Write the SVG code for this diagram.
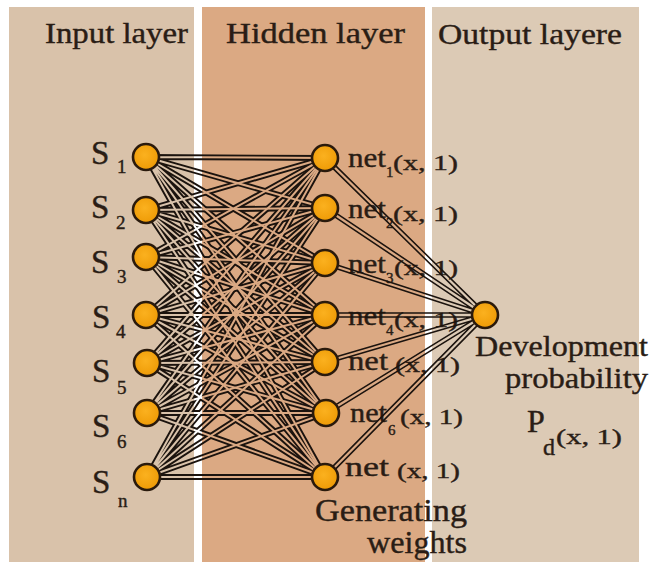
<svg xmlns="http://www.w3.org/2000/svg" width="651" height="562" viewBox="0 0 651 562">
  <style>
    .txt { font-family: "Liberation Serif", "Times New Roman", serif; fill: #2a1d15; stroke: #2a1d15; stroke-width: 0.4; }
    .title { font-size: 30px; }
    .big { font-size: 30px; }
    .s { font-size: 33px; }
    .sub { font-size: 19px; }
    .net { font-size: 27px; }
    .nsub { font-size: 15px; }
    .arg { font-size: 22px; }
    .node circle { fill: url(#ball); stroke: #2a1a0c; stroke-width: 2.6; }
    .wire { fill: none; stroke-linecap: round; }
  </style>
  <defs>
    <radialGradient id="ball" cx="0.45" cy="0.42" r="0.6">
      <stop offset="0" stop-color="#fbb11f"/>
      <stop offset="1" stop-color="#ee9a05"/>
    </radialGradient>
    <!-- every weight from an input unit to every hidden unit -->
    <g id="input-hidden-wires">
      <path d="M146 157L325 158M146 157L325 208M146 157L325 263M146 157L325 315M146 157L325 362M146 157L326 413M146 157L325 477"/>
      <path d="M146 210L325 158M146 210L325 208M146 210L325 263M146 210L325 315M146 210L325 362M146 210L326 413M146 210L325 477"/>
      <path d="M146 257L325 158M146 257L325 208M146 257L325 263M146 257L325 315M146 257L325 362M146 257L326 413M146 257L325 477"/>
      <path d="M146 315L325 158M146 315L325 208M146 315L325 263M146 315L325 315M146 315L325 362M146 315L326 413M146 315L325 477"/>
      <path d="M147 363L325 158M147 363L325 208M147 363L325 263M147 363L325 315M147 363L325 362M147 363L326 413M147 363L325 477"/>
      <path d="M147 413L325 158M147 413L325 208M147 413L325 263M147 413L325 315M147 413L325 362M147 413L326 413M147 413L325 477"/>
      <path d="M147 477L325 158M147 477L325 208M147 477L325 263M147 477L325 315M147 477L325 362M147 477L326 413M147 477L325 477"/>
    </g>
    <!-- hidden units feeding the single output unit -->
    <g id="hidden-output-wires">
      <path d="M325 158L485 315M325 208L485 315M325 263L485 315M325 315L485 315M325 362L485 315M326 413L485 315M325 477L485 315"/>
    </g>
    <!-- hollows out the middle of each wire so it reads as a double line -->
    <mask id="hollow" maskUnits="userSpaceOnUse" x="0" y="0" width="651" height="562">
      <rect width="651" height="562" fill="#fff"/>
      <use href="#input-hidden-wires" class="wire" stroke="#000" stroke-width="2"/>
      <use href="#hidden-output-wires" class="wire" stroke="#000" stroke-width="2.3"/>
    </mask>
  </defs>

  <rect width="651" height="562" fill="#ffffff"/>

  <!-- layer panels -->
  <g id="panels">
    <rect x="9" y="7" width="185" height="555" fill="#d9c2aa"/>
    <rect x="202" y="7" width="223" height="555" fill="#dba983"/>
    <rect x="432" y="7" width="207" height="555" fill="#dccab5"/>
  </g>

  <!-- layer headings -->
  <g id="headings" class="txt title">
    <text x="45" y="43" textLength="143" lengthAdjust="spacingAndGlyphs">Input layer</text>
    <text x="226" y="43" textLength="179" lengthAdjust="spacingAndGlyphs">Hidden layer</text>
    <text x="438" y="44" textLength="184" lengthAdjust="spacingAndGlyphs">Output layere</text>
  </g>

  <!-- input labels -->
  <g id="input-labels" class="txt">
    <text class="s" x="91" y="164">S</text><text class="sub" x="117" y="173">1</text>
    <text class="s" x="91" y="218">S</text><text class="sub" x="116" y="229">2</text>
    <text class="s" x="91" y="273">S</text><text class="sub" x="117" y="283">3</text>
    <text class="s" x="92" y="328">S</text><text class="sub" x="116" y="338">4</text>
    <text class="s" x="92" y="382">S</text><text class="sub" x="117" y="394">5</text>
    <text class="s" x="92" y="437">S</text><text class="sub" x="117" y="448">6</text>
    <text class="s" x="92" y="493">S</text><text class="sub" x="118" y="507">n</text>
  </g>

  <!-- hidden unit labels -->
  <g id="hidden-labels" class="txt">
    <text class="net" x="348" y="167" textLength="38" lengthAdjust="spacingAndGlyphs">net</text><text class="nsub" x="386" y="177">1</text><text class="arg" x="393" y="170" textLength="65" lengthAdjust="spacingAndGlyphs">(x, 1)</text>
    <text class="net" x="348" y="218" textLength="38" lengthAdjust="spacingAndGlyphs">net</text><text class="nsub" x="386" y="228">2</text><text class="arg" x="393" y="221" textLength="65" lengthAdjust="spacingAndGlyphs">(x, 1)</text>
    <text class="net" x="348" y="273" textLength="38" lengthAdjust="spacingAndGlyphs">net</text><text class="nsub" x="386" y="283">3</text><text class="arg" x="394" y="275" textLength="64" lengthAdjust="spacingAndGlyphs">(x, 1)</text>
    <text class="net" x="348" y="325" textLength="38" lengthAdjust="spacingAndGlyphs">net</text><text class="nsub" x="386" y="335">4</text><text class="arg" x="394" y="327" textLength="64" lengthAdjust="spacingAndGlyphs">(x, 1)</text>
    <text class="net" x="348" y="370" textLength="40" lengthAdjust="spacingAndGlyphs">net</text><text class="arg" x="395" y="372" textLength="65" lengthAdjust="spacingAndGlyphs">(x, 1)</text>
    <text class="net" x="350" y="422" textLength="37" lengthAdjust="spacingAndGlyphs">net</text><text class="nsub" x="388" y="435">6</text><text class="arg" x="400" y="424" textLength="63" lengthAdjust="spacingAndGlyphs">(x, 1)</text>
    <text class="net" x="345" y="476" textLength="44" lengthAdjust="spacingAndGlyphs">net</text><text class="arg" x="397" y="478" textLength="63" lengthAdjust="spacingAndGlyphs">(x, 1)</text>
  </g>

  <!-- weights between layers -->
  <g id="connectors" mask="url(#hollow)">
    <use href="#input-hidden-wires" class="wire" stroke="#1b130e" stroke-width="5.8"/>
    <use href="#hidden-output-wires" class="wire" stroke="#1b130e" stroke-width="5.4"/>
  </g>

  <!-- input units -->
  <g id="s1" class="node"><circle cx="146" cy="157" r="13"/></g>
  <g id="s2" class="node"><circle cx="146" cy="210" r="13"/></g>
  <g id="s3" class="node"><circle cx="146" cy="257" r="13"/></g>
  <g id="s4" class="node"><circle cx="146" cy="315" r="13"/></g>
  <g id="s5" class="node"><circle cx="147" cy="363" r="13"/></g>
  <g id="s6" class="node"><circle cx="147" cy="413" r="13"/></g>
  <g id="sn" class="node"><circle cx="147" cy="477" r="13"/></g>

  <!-- hidden units -->
  <g id="net1" class="node"><circle cx="325" cy="158" r="13"/></g>
  <g id="net2" class="node"><circle cx="325" cy="208" r="13"/></g>
  <g id="net3" class="node"><circle cx="325" cy="263" r="13"/></g>
  <g id="net4" class="node"><circle cx="325" cy="315" r="13"/></g>
  <g id="net5" class="node"><circle cx="325" cy="362" r="13"/></g>
  <g id="net6" class="node"><circle cx="326" cy="413" r="13"/></g>
  <g id="net7" class="node"><circle cx="325" cy="477" r="13"/></g>

  <!-- output unit -->
  <g id="output" class="node"><circle cx="485" cy="315" r="13"/></g>

  <!-- output and weight captions -->
  <g id="output-label" class="txt">
    <text class="big" x="475" y="356" textLength="173" lengthAdjust="spacingAndGlyphs">Development</text>
    <text class="big" x="505" y="388" textLength="143" lengthAdjust="spacingAndGlyphs">probability</text>
    <text x="527" y="432" style="font-size:32px">P</text><text x="543" y="455" style="font-size:24px">d</text><text class="arg" x="556" y="444" style="font-size:22px" textLength="66" lengthAdjust="spacingAndGlyphs">(x, 1)</text>
  </g>
  <g id="weights-label" class="txt">
    <text x="315" y="521" style="font-size:31px" textLength="152" lengthAdjust="spacingAndGlyphs">Generating</text>
    <text x="367" y="553" style="font-size:31px" textLength="100" lengthAdjust="spacingAndGlyphs">weights</text>
  </g>
</svg>
